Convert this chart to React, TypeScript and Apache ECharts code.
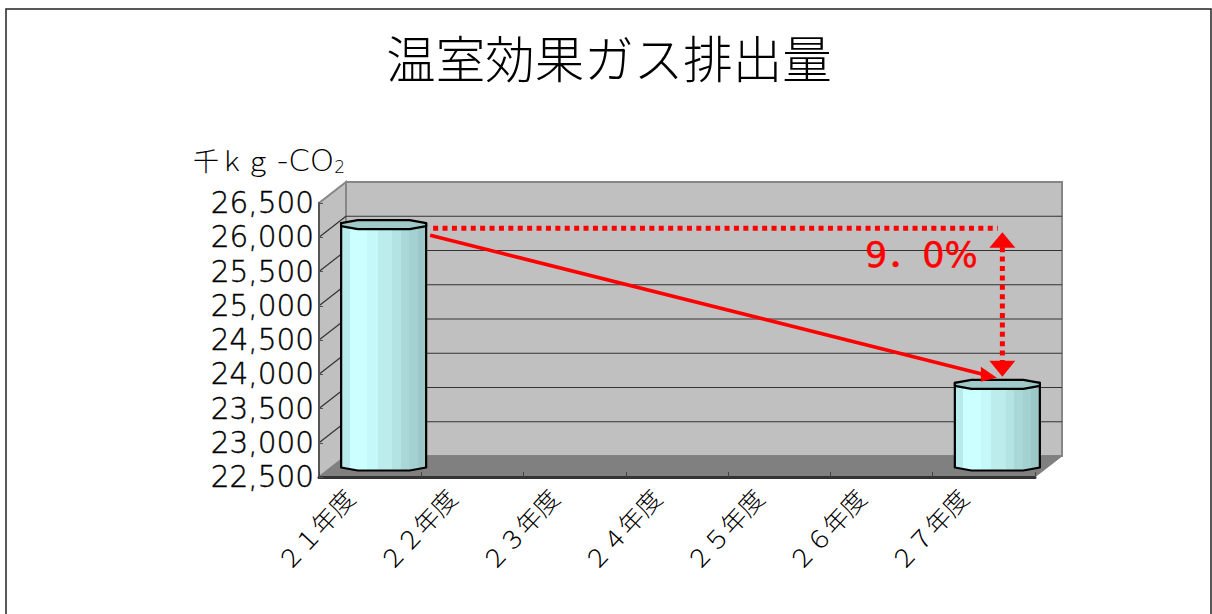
import React, { useEffect, useRef } from "react";
import * as echarts from "echarts";

const title = "温室効果ガス排出量";
const unitLabel = "{a|千ｋｇ}{b|-CO}{c|2}";
const categories = ["２１年度", "２２年度", "２３年度", "２４年度", "２５年度", "２６年度", "２７年度"];
const barPoints = [[0, 26030], [6, 23700]];
const yTicks = [22500, 23000, 23500, 24000, 24500, 25000, 25500, 26000, 26500];
const percentLabel = "9．0%";

const DEPTH_X = 27;
const DEPTH_Y = -21;
const RED = "#ff0000";
const faceStops = [
  [0, "#b8ecec"], [0.1, "#ccffff"], [0.31, "#c5f8f8"], [0.43, "#bcecec"],
  [0.6, "#b3e3e3"], [0.7, "#aad8d8"], [0.8, "#a3d0d0"], [0.9, "#9cc8c8"], [1, "#9cc8c8"],
];

function hardGradient() {
  const stops: { offset: number; color: string }[] = [];
  for (let i = 0; i < faceStops.length - 1; i++) {
    stops.push({ offset: faceStops[i][0] as number, color: faceStops[i][1] as string });
    stops.push({ offset: faceStops[i + 1][0] as number, color: faceStops[i][1] as string });
  }
  return new echarts.graphic.LinearGradient(0, 0, 1, 0, stops);
}

const renderWalls = (params: any, api: any) => {
  const sys = params.coordSys;
  const left = sys.x, right = sys.x + sys.width, top = sys.y, bottom = sys.y + sys.height;
  const y = api.coord([0, api.value(1)])[1];
  const children: any[] = [];
  const edge = { stroke: "#868686", lineWidth: 2 };
  if (params.dataIndex === 0) {
    children.push({
      type: "rect",
      shape: { x: left + DEPTH_X, y: top + DEPTH_Y, width: sys.width, height: sys.height },
      style: { fill: "#c0c0c0", ...edge },
    });
    children.push({
      type: "polygon",
      shape: { points: [[left, top], [left + DEPTH_X, top + DEPTH_Y], [left + DEPTH_X, bottom + DEPTH_Y], [left, bottom]] },
      style: { fill: "#c0c0c0", ...edge },
    });
    children.push({
      type: "polygon",
      shape: { points: [[left, bottom], [left + DEPTH_X, bottom + DEPTH_Y], [right + DEPTH_X, bottom + DEPTH_Y], [right, bottom]] },
      style: { fill: "#808080", stroke: "#808080", lineWidth: 1 },
    });
  } else if (y > top + 1) {
    const line = { stroke: "#333333", lineWidth: 1.2 };
    children.push({ type: "line", shape: { x1: left, y1: y, x2: left + DEPTH_X, y2: y + DEPTH_Y }, style: line });
    children.push({ type: "line", shape: { x1: left + DEPTH_X, y1: y + DEPTH_Y, x2: right + DEPTH_X, y2: y + DEPTH_Y }, style: line });
  }
  return { type: "group", children };
};

const renderBar = (params: any, api: any) => {
  const sys = params.coordSys;
  const p = api.coord([api.value(0), api.value(1)]);
  const cx = p[0] + DEPTH_X / 2;
  const topY = p[1] + DEPTH_Y / 2;
  const baseY = sys.y + sys.height + DEPTH_Y / 2;
  const a = 42.5, b = 26;
  const body = [
    [cx - a, topY - 1.5], [cx + a, topY - 1.5], [cx + a, baseY + 1], [cx + b, baseY + 4],
    [cx - b, baseY + 4], [cx - a, baseY + 1],
  ];
  const cap = [
    [cx - a, topY - 1.5], [cx - b, topY - 4.5], [cx + b, topY - 4.5], [cx + a, topY - 1.5],
    [cx + a, topY + 1.5], [cx + b, topY + 4.5], [cx - b, topY + 4.5], [cx - a, topY + 1.5],
  ];
  const stroke = { stroke: "#000000", lineWidth: 2.2, lineJoin: "round" };
  return {
    type: "group",
    children: [
      { type: "polygon", shape: { points: body }, style: { fill: hardGradient(), ...stroke } },
      { type: "polygon", shape: { points: cap }, style: { fill: "#a0c9c9", ...stroke } },
    ],
  };
};

const renderAnnotation = (params: any, api: any) => {
  if (params.dataIndex !== 0) return { type: "group", children: [] };
  const a = api.coord([barPoints[0][0], barPoints[0][1]]);
  const b = api.coord([barPoints[1][0], barPoints[1][1]]);
  const vx = b[0] + 18.5;
  const hy = a[1] - 7;
  const dotted = { stroke: RED, lineWidth: 5, lineDash: [5, 4.4] };
  const tipX = b[0] + 13, tipY = b[1] - 17;
  const upTip = hy + 4, downTip = b[1] - 18;
  return {
    type: "group",
    children: [
      { type: "line", shape: { x1: a[0] + 63, y1: hy, x2: b[0] + 14, y2: hy }, style: dotted },
      { type: "line", shape: { x1: vx, y1: upTip + 15, x2: vx, y2: downTip - 15 }, style: dotted },
      { type: "polygon", shape: { points: [[vx, upTip], [vx - 13, upTip + 15.5], [vx + 13, upTip + 15.5]] }, style: { fill: RED } },
      { type: "polygon", shape: { points: [[vx, downTip], [vx - 13, downTip - 16], [vx + 13, downTip - 16]] }, style: { fill: RED } },
      { type: "line", shape: { x1: a[0] + 60, y1: a[1], x2: tipX - 14, y2: tipY - 3.6 }, style: { stroke: RED, lineWidth: 3.6 } },
      { type: "polygon", shape: { points: [[tipX, tipY], [tipX - 16, tipY - 11], [tipX - 16, tipY + 4]] }, style: { fill: RED } },
    ],
  };
};

export default function App() {
  const ref = useRef<HTMLDivElement>(null);
  useEffect(() => {
    document.body.style.margin = "0";
    document.body.style.overflow = "hidden";
    const chart = echarts.init(ref.current!, undefined, { renderer: "svg" });
    const labelFont = "'DejaVu Sans Light', 'DejaVu Sans', sans-serif";
    const jpFont = "'Noto Sans CJK JP', sans-serif";
    chart.setOption({
      animation: false,
      backgroundColor: "#ffffff",
      title: {
        text: title,
        left: 604,
        top: 27,
        textAlign: "center",
        textStyle: { fontFamily: jpFont, fontSize: 49.5, fontWeight: 300, color: "#000000" },
      },
      grid: { left: 319, right: 177, top: 203, bottom: 137 },
      xAxis: {
        type: "category",
        data: categories,
        z: 3,
        axisLine: { lineStyle: { color: "#333333", width: 3 } },
        axisTick: { show: true, inside: true, length: 5, lineStyle: { color: "#444444", width: 1 } },
        axisLabel: {
          interval: 0, rotate: 47, margin: 30, verticalAlign: "bottom", padding: [0, 4, 13, 0],
          fontFamily: jpFont, fontSize: 25, fontWeight: 300, color: "#000000",
        },
      },
      yAxis: {
        type: "value",
        min: 22500,
        max: 26500,
        interval: 500,
        z: 3,
        splitLine: { show: false },
        axisLine: { show: true, lineStyle: { color: "#555555", width: 2 } },
        axisTick: { show: true, inside: true, length: 4, lineStyle: { color: "#555555", width: 1 } },
        axisLabel: {
          margin: 5,
          fontFamily: labelFont,
          fontSize: 29.5,
          color: "#000000",
          textBorderColor: "#000000",
          textBorderWidth: 0.4,
          formatter: (v: number) => v.toLocaleString("en-US"),
        },
      },
      graphic: [
        { type: "rect", z: -10, silent: true, shape: { x: 6, y: 9, width: 1205, height: 700 }, style: { fill: "none", stroke: "#222222", lineWidth: 1.5 } },
        {
          type: "text", x: 193, y: 144, z: 10,
          style: {
            text: unitLabel,
            fill: "#000000",
            rich: {
              a: { fontFamily: jpFont, fontWeight: 300, fontSize: 26, fill: "#000000" },
              b: { fontFamily: labelFont, fontSize: 31, fill: "#000000", padding: [0, 0, 0, 6] },
              c: { fontFamily: labelFont, fontSize: 17, fill: "#000000", verticalAlign: "bottom", padding: [8, 0, 0, 0] },
            },
          },
        },
        { type: "text", x: 865, y: 237, z: 10, style: { text: percentLabel, fontFamily: "'DejaVu Sans', 'Noto Sans CJK JP', sans-serif", fontSize: 35, fill: RED, stroke: RED, lineWidth: 0.5 } },
      ],
      series: [
        { type: "custom", name: "walls", z: 1, silent: true, renderItem: renderWalls, data: yTicks.map((v) => [0, v]) },
        { type: "custom", name: "排出量", z: 2, renderItem: renderBar, data: barPoints },
        { type: "custom", name: "annotation", z: 4, silent: true, renderItem: renderAnnotation, data: [barPoints[0]] },
      ],
    });
    return () => chart.dispose();
  }, []);
  return <div ref={ref} style={{ position: "fixed", left: 0, top: 0, width: 1212, height: 614 }} />;
}
